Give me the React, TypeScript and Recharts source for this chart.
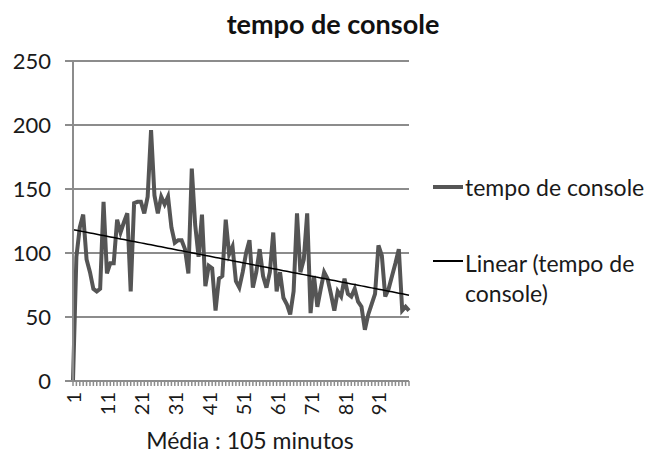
import React from "react";
import { LineChart, Line, XAxis, YAxis, CartesianGrid } from "recharts";

const SERIES_NAME = "tempo de console";
const TREND_NAME = "Linear (tempo de console)";
const X_TITLE = "Média : 105 minutos";

// valores (minutos por sessão)
const consoleTime = [
  0, 97, 120, 130, 95, 85, 72, 70, 72, 140,
  84, 92, 92, 126, 116, 124, 131, 70, 139, 140,
  140, 131, 144, 196, 145, 131, 144, 138, 144, 120,
  108, 110, 110, 103, 84, 166, 122, 97, 130, 74,
  90, 88, 55, 80, 82, 126, 99, 105, 78, 73,
  85, 100, 110, 73, 85, 103, 82, 73, 85, 116,
  70, 85, 65, 60, 52, 70, 131, 85, 95, 131,
  53, 82, 58, 72, 85, 80, 68, 55, 70, 66,
  80, 68, 66, 72, 62, 58, 40, 52, 60, 68,
  106, 98, 66, 72, 82, 92, 103, 55, 58, 55,
];
const categories = consoleTime.map((_, i) => String(i + 1));
const yTicks = [0, 50, 100, 150, 200, 250];

const FONT = "Lato, 'Open Sans', sans-serif";

// tendência linear por mínimos quadrados
function linearFit(values: number[]) {
  const n = values.length;
  let sx = 0, sy = 0, sxy = 0, sxx = 0;
  values.forEach((v, i) => {
    const x = i + 1;
    sx += x; sy += v; sxy += x * v; sxx += x * x;
  });
  const slope = (n * sxy - sx * sy) / (n * sxx - sx * sx);
  const intercept = (sy - slope * sx) / n;
  return values.map((_, i) => intercept + slope * (i + 1));
}

const trend = linearFit(consoleTime);
const data = categories.map((name, i) => ({
  name,
  value: consoleTime[i],
  trend: trend[i],
}));

const XTick = (props: any) => {
  const { x, y, payload } = props;
  if ((Number(payload.value) - 1) % 10 !== 0) return <g />;
  return (
    <text
      x={x}
      y={y}
      transform={`rotate(-90 ${x} ${y})`}
      textAnchor="end"
      dominantBaseline="central"
      fontFamily={FONT}
      fontSize={20}
      fill="#1a1a1a"
    >
      {payload.value}
    </text>
  );
};

export default function App() {
  return (
    <div style={{ position: "absolute", left: 0, top: 0, width: 646, height: 459, background: "#fff", fontFamily: FONT }}>
      <div style={{ position: "absolute", left: 0, width: 666, top: 7, textAlign: "center", fontWeight: 700, fontSize: 27, color: "#111" }}>
        {SERIES_NAME}
      </div>
      <LineChart
        width={646}
        height={459}
        data={data}
        margin={{ top: 61, right: 237, bottom: 0, left: 0 }}
      >
        <CartesianGrid vertical={false} stroke="#8c8c8c" strokeWidth={2} />
        <XAxis
          dataKey="name"
          interval={0}
          height={78}
          tick={<XTick />}
          tickSize={5}
          tickMargin={6}
          stroke="#8c8c8c"
          strokeWidth={1.5}
        />
        <YAxis
          domain={[0, 250]}
          ticks={yTicks}
          width={73}
          tickSize={8}
          tickMargin={14}
          stroke="#8c8c8c"
          strokeWidth={2}
          tick={{ fontFamily: FONT, fontSize: 22, fill: "#1a1a1a" }}
        />
        <Line
          type="linear"
          dataKey="value"
          stroke="#555555"
          strokeWidth={4}
          dot={false}
          isAnimationActive={false}
        />
        <Line
          type="linear"
          dataKey="trend"
          stroke="#000000"
          strokeWidth={1.5}
          dot={false}
          isAnimationActive={false}
        />
      </LineChart>
      <div style={{ position: "absolute", left: 130, width: 240, top: 426, textAlign: "center", fontSize: 23, color: "#1a1a1a" }}>
        {X_TITLE}
      </div>
      <div style={{ position: "absolute", left: 433, top: 172, fontSize: 23, color: "#1a1a1a", lineHeight: "30px" }}>
        <div style={{ display: "flex", alignItems: "center" }}>
          <span style={{ display: "inline-block", width: 30, height: 4, background: "#555555", marginRight: 2 }} />
          {SERIES_NAME}
        </div>
        <div style={{ display: "flex", alignItems: "flex-start", marginTop: 46 }}>
          <span style={{ display: "inline-block", width: 30, height: 1.5, background: "#000", marginRight: 2, marginTop: 12 }} />
          <span style={{ width: 180 }}>{TREND_NAME}</span>
        </div>
      </div>
    </div>
  );
}
